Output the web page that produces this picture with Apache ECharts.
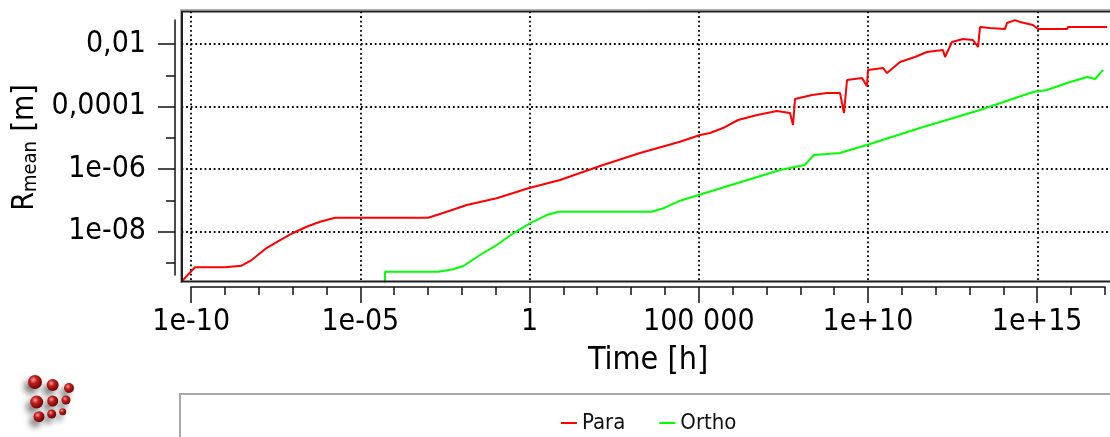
<!DOCTYPE html>
<html>
<head>
<meta charset="utf-8">
<script src="https://cdn.jsdelivr.net/npm/echarts@6/dist/echarts.min.js"></script>
<style>
  html, body { margin: 0; padding: 0; background: #fff; }
  #chart { width: 1110px; height: 437px; }
</style>
</head>
<body>
<div id="chart"></div>
<script>
// time axis ticks (hours) and their labels
const timeTicks = [1e-10, 1e-5, 1, 1e5, 1e10, 1e15];
const timeTickLabels = ['1e-10', '1e-05', '1', '100 000', '1e+10', '1e+15'];
// radius axis ticks (m) and their labels
const rTicks = [1e-2, 1e-4, 1e-6, 1e-8];
const rTickLabels = ['0,01', '0,0001', '1e-06', '1e-08'];

// Para series
const paraTime = [5e-11, 1.31e-10, 1.0e-9, 1.13e-9, 3.1e-9, 6.2e-9, 1.7e-8, 4.3e-8, 1.03e-7, 2.6e-7,
  6.5e-7, 1.8e-6, 1.02e-3, 3.6e-3, 0.014, 0.107, 0.92, 8.0, 121, 1837,
  2.79e4, 1.09e5, 2.15e5, 5.2e5, 1.45e6, 5.3e6, 2.05e7, 4.97e7, 6.1e7, 6.97e7,
  2.22e8, 6.15e8, 1.49e9, 1.95e9, 2.4e9, 6.65e9, 9.3e9, 1.0e10, 2.77e10, 3.64e10,
  8.8e10, 2.44e11, 5.5e11, 1.64e12, 1.88e12, 3.03e12, 6.4e12, 1.26e13, 1.78e13, 2.04e13,
  4.0e13, 1.11e14, 1.28e14, 2.2e14, 3.1e14, 7.5e14, 1.05e15, 7.6e15, 8.1e15, 1.15e17];
const paraR = [2.4e-10, 7.3e-10, 7.3e-10, 8.2e-10, 8.2e-10, 1.24e-9, 3.0e-9, 5.4e-9, 9.1e-9, 1.44e-8,
  2.08e-8, 2.8e-8, 2.8e-8, 4.36e-8, 7.1e-8, 1.17e-7, 2.44e-7, 4.5e-7, 1.26e-6, 3.27e-6,
  7.5e-6, 1.23e-5, 1.43e-5, 2.06e-5, 3.72e-5, 5.37e-5, 7.2e-5, 6.2e-5, 2.57e-5, 1.75e-4,
  2.34e-4, 2.71e-4, 2.71e-4, 6.2e-5, 7.06e-4, 8.2e-4, 4.5e-4, 1.48e-3, 1.71e-3, 1.18e-3,
  2.66e-3, 3.84e-3, 5.55e-3, 6.4e-3, 3.84e-3, 1.16e-2, 1.45e-2, 1.34e-2, 8.0e-3, 3.5e-2,
  3.25e-2, 3.0e-2, 4.7e-2, 5.8e-2, 5.05e-2, 4.05e-2, 3.0e-2, 3.0e-2, 3.5e-2, 3.5e-2];

// Ortho series
const orthoTime = [5.4e-5, 5.4e-5, 2.02e-3, 5.6e-3, 1.11e-2, 3.45e-2, 0.107, 0.332, 1.03, 3.22,
  7.1, 4074, 8970, 2.79e4, 2.51e7, 1.37e8, 2.52e8, 1.48e9, 9.3e9, 3.4e11,
  2.04e13, 7.5e14, 1.94e15, 7.6e15, 2.95e16, 5.1e16, 8.8e16];
const orthoR = [1e-10, 5.26e-10, 5.26e-10, 6.27e-10, 8.0e-10, 1.8e-9, 3.75e-9, 8.9e-9, 1.85e-8, 3.41e-8,
  4.35e-8, 4.35e-8, 5.6e-8, 9.8e-8, 9.4e-7, 1.36e-6, 2.83e-6, 3.27e-6, 5.9e-6, 2.06e-5,
  7.77e-5, 2.92e-4, 3.38e-4, 5.66e-4, 8.8e-4, 7.6e-4, 1.48e-3];

const FONT = "'DejaVu Sans Condensed', 'DejaVu Sans', sans-serif"

// every decade gets a small tick
const timeMinor = []
for (let e = -10; e <= 17; e++) timeMinor.push(Math.pow(10, e))
const rMinor = []
for (let e = -9; e <= -2; e++) rMinor.push(Math.pow(10, e))

function pick(ticks, labels) {
  return function (v) {
    const lv = Math.log10(v)
    for (let i = 0; i < ticks.length; i++) {
      if (Math.abs(Math.log10(ticks[i]) - lv) < 0.01) return labels[i]
    }
    return ''
  }
}

const dotted = {show: true, lineStyle: {color: '#000', width: 1.8, type: [1.8, 2.8]}}

const chart = echarts.init(document.getElementById('chart'), null, {renderer: 'canvas'})

const option = {
  animation: false,
  backgroundColor: '#fff',
  textStyle: {fontFamily: FONT},
  grid: [
    // plot canvas, runs out of the picture on the right
    {left: 181.5, top: 11.5, width: 928.5, height: 270, show: true, borderWidth: 0, backgroundColor: '#fff', containLabel: false},
    // scale frame (axes with ticks and labels)
    {left: 191, top: 20, width: 914, height: 255, containLabel: false}
  ],
  xAxis: [
    {
      gridIndex: 0, type: 'log', min: Math.pow(10, -10.281), max: Math.pow(10, 17.149),
      axisLine: {show: false}, axisTick: {show: false, customValues: timeTicks},
      axisLabel: {show: false}, splitLine: dotted
    },
    {
      gridIndex: 1, type: 'log', min: 9.9e-11, max: 1.01e17, position: 'bottom', offset: 12,
      axisLine: {show: true, lineStyle: {color: '#111', width: 1.5}},
      axisTick: {show: true, length: 16, customValues: timeTicks, lineStyle: {color: '#111', width: 1.5}},
      axisLabel: {show: true, customValues: timeTicks, formatter: pick(timeTicks, timeTickLabels), margin: 20,
        fontSize: 30, color: '#000', fontFamily: FONT},
      splitLine: {show: false},
      name: 'Time [h]', nameLocation: 'middle', nameGap: 58,
      nameTextStyle: {fontSize: 32, color: '#000', fontFamily: FONT}
    },
    {
      gridIndex: 1, type: 'log', min: 9.9e-11, max: 1.01e17, position: 'bottom', offset: 12,
      axisLine: {show: false},
      axisTick: {show: true, length: 8, customValues: timeMinor, lineStyle: {color: '#111', width: 1.5}},
      axisLabel: {show: false}, splitLine: {show: false}
    }
  ],
  yAxis: [
    {
      gridIndex: 0, type: 'log', min: Math.pow(10, -9.592), max: Math.pow(10, -0.961),
      axisLine: {show: false}, axisTick: {show: false, customValues: rTicks},
      axisLabel: {show: false}, splitLine: dotted
    },
    {
      gridIndex: 1, type: 'log', min: Math.pow(10, -9.384), max: Math.pow(10, -1.233), position: 'left', offset: 16,
      axisLine: {show: true, lineStyle: {color: '#111', width: 1.5}},
      axisTick: {show: true, length: 17, customValues: rTicks, lineStyle: {color: '#111', width: 1.5}},
      axisLabel: {show: true, customValues: rTicks, formatter: pick(rTicks, rTickLabels), margin: 29,
        fontSize: 30, color: '#000', fontFamily: FONT, padding: [6, 0, 0, 0]},
      splitLine: {show: false},
      name: '{r|R}{s|mean} {r|[m]}', nameLocation: 'middle', nameGap: 127, nameRotate: 90,
      nameTextStyle: {
        color: '#000', fontFamily: FONT,
        rich: {
          r: {fontSize: 30, lineHeight: 30, verticalAlign: 'top', fontFamily: FONT, color: '#000'},
          s: {fontSize: 20, lineHeight: 20, verticalAlign: 'bottom', padding: [12, 6, 0, 0], fontFamily: FONT, color: '#000'}
        }
      }
    },
    {
      gridIndex: 1, type: 'log', min: Math.pow(10, -9.384), max: Math.pow(10, -1.233), position: 'left', offset: 16,
      axisLine: {show: false},
      axisTick: {show: true, length: 9, customValues: rMinor, lineStyle: {color: '#111', width: 1.5}},
      axisLabel: {show: false}, splitLine: {show: false}
    }
  ],
  legend: {
    data: ['Para', 'Ortho'],
    left: 556, top: 407,
    icon: 'rect', itemWidth: 16, itemHeight: 2, itemGap: 34,
    textStyle: {fontSize: 22, color: '#111', fontFamily: FONT, lineHeight: 22}
  },
  graphic: [
    {type: 'rect', z: -1, shape: {x: 180, y: 394, width: 960, height: 60}, style: {fill: '#fff', stroke: '#a8a8a8', lineWidth: 2}},
    // sunken frame of the plot canvas
    {type: 'polyline', z: 10, shape: {points: [[1112, 9.5], [180.5, 9.5], [180.5, 283]]}, style: {stroke: '#b0b0b0', lineWidth: 1, fill: null}},
    {type: 'polyline', z: 10, shape: {points: [[1112, 11.5], [182, 11.5], [182, 281.5], [1112, 281.5]]}, style: {stroke: '#1e1e1e', lineWidth: 2, fill: null}},
    // logo
    {type: 'group', children: [
      [35, 382, 7], [52.7, 385, 6], [69, 388, 5],
      [36.7, 402, 6.5], [52.7, 401, 5.5], [66, 400, 4.5],
      [39, 416.7, 5.5], [51.7, 414, 4.5], [62.7, 411.7, 3.5]
    ].map(function (c) {
      return {
        type: 'circle', shape: {cx: c[0], cy: c[1], r: c[2]},
        style: {
          fill: {type: 'radial', x: 0.38, y: 0.35, r: 0.75,
            colorStops: [{offset: 0, color: '#f2a0a0'}, {offset: 0.35, color: '#c41c1c'}, {offset: 1, color: '#5a0000'}]},
          shadowBlur: 6, shadowColor: 'rgba(0,0,0,0.5)', shadowOffsetX: -4, shadowOffsetY: 5
        }
      }
    })}
  ],
  series: [
    {
      name: 'Para', type: 'line', xAxisIndex: 0, yAxisIndex: 0,
      data: paraTime.map((t, i) => [t, paraR[i]]),
      showSymbol: false, symbol: 'none', clip: true,
      itemStyle: {color: '#ff0000'}, lineStyle: {color: '#ff0000', width: 2}
    },
    {
      name: 'Ortho', type: 'line', xAxisIndex: 0, yAxisIndex: 0,
      data: orthoTime.map((t, i) => [t, orthoR[i]]),
      showSymbol: false, symbol: 'none', clip: true,
      itemStyle: {color: '#00ff00'}, lineStyle: {color: '#00ff00', width: 2}
    }
  ]
}

chart.setOption(option)
</script>
</body>
</html>
